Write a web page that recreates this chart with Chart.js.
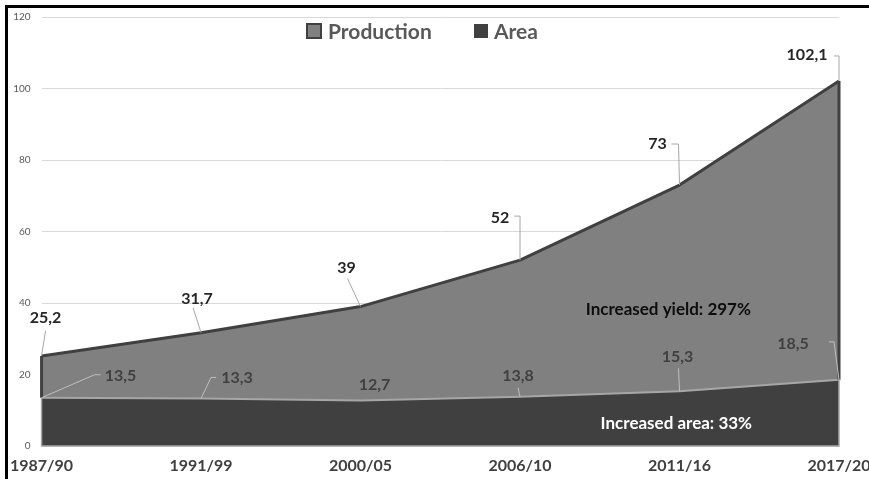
<!DOCTYPE html>
<html>
<head>
<meta charset="utf-8">
<script src="https://cdn.jsdelivr.net/npm/chart.js@4/dist/chart.umd.min.js"></script>
<style>
  html, body { margin: 0; padding: 0; background: #ffffff; overflow: hidden; }
  #wrap { position: relative; width: 900px; height: 479px; }
</style>
</head>
<body>
<div id="wrap"><canvas id="c" width="900" height="479"></canvas></div>
<script>
// ---- data ----
const categories = ['1987/90', '1991/99', '2000/05', '2006/10', '2011/16', '2017/20'];
const production = [25.2, 31.7, 39, 52, 73, 102.1];
const area = [13.5, 13.3, 12.7, 13.8, 15.3, 18.5];
const yTicks = [0, 20, 40, 60, 80, 100, 120];
const seriesNames = ['Production', 'Area'];
const notes = ['Increased yield: 297%', 'Increased area: 33%'];

const FONT = 'Lato, "Open Sans", "DejaVu Sans", sans-serif';

// label placement (pixel offsets relative to the data point)
const prodLabelOffsets = [[4, -38], [-4, -34], [-14, -39], [-20, -42], [-22, -41], [-32, -26]];
const prodLeaders = [
  [[0, 0], [4, -25]],
  [[0, 0], [-8, -25]],
  [[0, 0], [-13, -28]],
  [[0, 0], [0, -44], [-6, -44]],
  [[0, 0], [-1, -41], [-8, -41]],
  [[0, 0], [0, -25], [-5, -25]]
];
const areaLabelOffsets = [[79, -22], [36, -21], [14, -16], [-2, -21], [-2, -34], [-46, -36]];
const areaLeaders = [
  [[0, 0], [53, -23], [59, -23]],
  [[0, 0], [10, -21], [15, -21]],
  null,
  [[0, 0], [-2, -9]],
  [[0, 0], [-1, -23]],
  [[0, 0], [-5, -38], [-10, -38]]
];

const fmt = v => String(v).replace('.', ',');

const decorPlugin = {
  id: 'decor',
  beforeDraw(chart) {
    const ctx = chart.ctx;
    ctx.save();
    ctx.fillStyle = '#000000';
    ctx.fillRect(5, 5, 3, chart.height);
    ctx.fillRect(5, 5, chart.width, 3);
    ctx.restore();
  },
  afterDatasetsDraw(chart) {
    const ctx = chart.ctx;
    const xs = chart.scales.x, ys = chart.scales.y;
    const n = categories.length;
    const x0 = xs.getPixelForValue(0), xN = xs.getPixelForValue(n - 1);
    const base = ys.getPixelForValue(0);
    ctx.save();
    // production side edges
    ctx.strokeStyle = '#404040';
    ctx.lineWidth = 3;
    ctx.beginPath();
    ctx.moveTo(x0, ys.getPixelForValue(production[0]));
    ctx.lineTo(x0, ys.getPixelForValue(area[0]));
    ctx.moveTo(xN, ys.getPixelForValue(production[n - 1]));
    ctx.lineTo(xN, ys.getPixelForValue(area[n - 1]));
    ctx.stroke();
    // area side and bottom edges
    ctx.strokeStyle = '#a6a6a6';
    ctx.lineWidth = 1.5;
    ctx.beginPath();
    ctx.moveTo(x0, ys.getPixelForValue(area[0]));
    ctx.lineTo(x0, base);
    ctx.lineTo(xN, base);
    ctx.lineTo(xN, ys.getPixelForValue(area[n - 1]));
    ctx.stroke();

    // leaders + data labels
    const drawSet = (vals, offs, leaders, color, lineColor) => {
      vals.forEach((v, i) => {
        const px = xs.getPixelForValue(i), py = ys.getPixelForValue(v);
        const L = leaders[i];
        if (L) {
          ctx.strokeStyle = lineColor;
          ctx.lineWidth = 1;
          ctx.beginPath();
          L.forEach((p, k) => {
            if (k === 0) ctx.moveTo(px + p[0], py + p[1]);
            else ctx.lineTo(px + p[0], py + p[1]);
          });
          ctx.stroke();
        }
        ctx.fillStyle = color;
        ctx.font = 'bold 16px ' + FONT;
        ctx.textAlign = 'center';
        ctx.textBaseline = 'middle';
        ctx.fillText(fmt(v), px + offs[i][0], py + offs[i][1]);
      });
    };
    drawSet(production, prodLabelOffsets, prodLeaders, '#262626', '#a6a6a6');
    drawSet(area, areaLabelOffsets, areaLeaders, '#404040', '#bfbfbf');

    // annotations
    ctx.font = 'bold 17px ' + FONT;
    ctx.textAlign = 'center';
    ctx.textBaseline = 'middle';
    ctx.fillStyle = '#0d0d0d';
    ctx.fillText(notes[0], xs.getPixelForValue(3.93), ys.getPixelForValue(38.1));
    ctx.fillStyle = '#ffffff';
    ctx.fillText(notes[1], xs.getPixelForValue(3.98), ys.getPixelForValue(6.4));

    // legend
    const ly = 31;
    ctx.font = 'bold 21px ' + FONT;
    ctx.textAlign = 'left';
    ctx.textBaseline = 'middle';
    ctx.fillStyle = '#808080';
    ctx.fillRect(307, ly - 7, 14, 14);
    ctx.strokeStyle = '#404040';
    ctx.lineWidth = 2;
    ctx.strokeRect(307, ly - 7, 14, 14);
    ctx.fillStyle = '#595959';
    ctx.fillText(seriesNames[0], 328, ly + 1);
    ctx.fillStyle = '#404040';
    ctx.fillRect(474, ly - 7, 14, 14);
    ctx.fillStyle = '#595959';
    ctx.fillText(seriesNames[1], 494, ly + 1);
    ctx.restore();
  }
};

new Chart(document.getElementById('c'), {
  type: 'line',
  data: {
    labels: categories,
    datasets: [
      {
        label: seriesNames[0],
        data: production,
        order: 2,
        fill: 'origin',
        backgroundColor: '#808080',
        borderColor: '#404040',
        borderWidth: 3,
        borderJoinStyle: 'round',
        pointRadius: 0,
        tension: 0
      },
      {
        label: seriesNames[1],
        data: area,
        order: 1,
        fill: 'origin',
        backgroundColor: '#404040',
        borderColor: '#a6a6a6',
        borderWidth: 2,
        pointRadius: 0,
        tension: 0
      }
    ]
  },
  options: {
    responsive: false,
    animation: false,
    layout: { padding: { left: 0, right: 61, top: 14, bottom: 0 } },
    plugins: { legend: { display: false }, tooltip: { enabled: false } },
    scales: {
      x: {
        type: 'category',
        offset: false,
        grid: { display: false, drawTicks: false },
        border: { display: false },
        ticks: {
          color: '#404040',
          font: { family: FONT, size: 16, weight: 'bold' },
          maxRotation: 0,
          autoSkip: false,
          padding: 10
        },
        afterFit(scale) { scale.height = 33; }
      },
      y: {
        min: 0,
        max: 120,
        afterBuildTicks(scale) { scale.ticks = yTicks.map(v => ({ value: v })); },
        grid: { color: '#d9d9d9', lineWidth: 1, drawTicks: false },
        border: { display: false },
        ticks: {
          color: '#595959',
          font: { family: FONT, size: 10 },
          padding: 11
        },
        afterFit(scale) { scale.width = 40; }
      }
    }
  },
  plugins: [decorPlugin]
});
</script>
</body>
</html>
